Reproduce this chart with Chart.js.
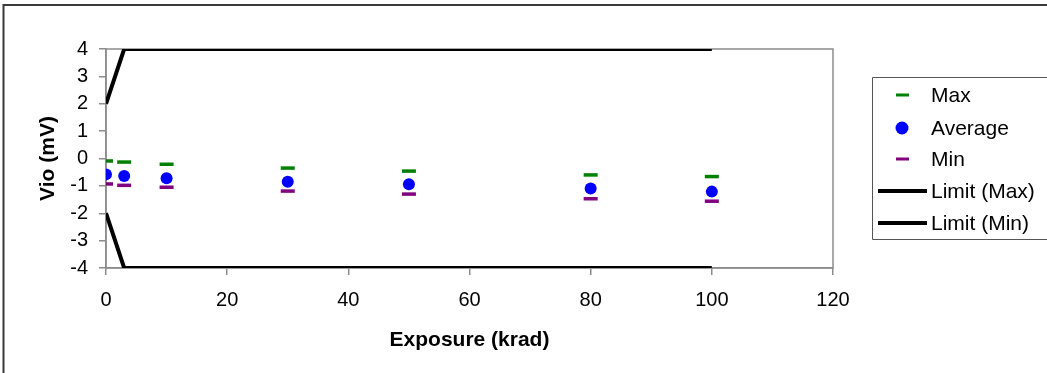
<!DOCTYPE html>
<html>
<head>
<meta charset="utf-8">
<script src="https://cdn.jsdelivr.net/npm/chart.js@4/dist/chart.umd.min.js"></script>
<style>
  html, body { margin: 0; padding: 0; background: #fff; }
  #wrap { width: 1047px; height: 373px; position: relative; }
</style>
</head>
<body>
<div id="wrap"><canvas id="chart" width="1047" height="373"></canvas></div>
<script>
// data
const exposure = [0, 3, 10, 30, 50, 80, 100];
const vioMax = [-0.09, -0.13, -0.21, -0.35, -0.46, -0.60, -0.66];
const vioAvg = [-0.58, -0.64, -0.72, -0.85, -0.94, -1.10, -1.21];
const vioMin = [-0.93, -0.98, -1.05, -1.19, -1.30, -1.47, -1.56];
const limitX = [0, 3, 100];
const limitMax = [2, 4, 4];
const limitMin = [-2, -4, -4];
const xTicks = [0, 20, 40, 60, 80, 100, 120];
const yTicks = [-4, -3, -2, -1, 0, 1, 2, 3, 4];

function pts(xs, ys) {
    return xs.map((x, i) => ({x: x, y: ys[i]}));
}

const FONT = "'Liberation Sans', Arial, sans-serif";
const AXIS_GRAY = '#8c8c8c';

// frame, plot border and the legend box on the right
const framePlugin = {
    id: 'frame',
    beforeDatasetsDraw(chart) {
        const ctx = chart.ctx;
        const a = chart.chartArea;
        ctx.save();
        ctx.strokeStyle = AXIS_GRAY;
        ctx.lineWidth = 1.5;
        ctx.strokeRect(a.left, a.top, a.right - a.left, a.bottom - a.top);
        ctx.restore();
    },
    afterDraw(chart) {
        const ctx = chart.ctx;
        ctx.save();
        // outer chart frame (right & bottom edges are cut off in the picture)
        ctx.strokeStyle = '#3a3a3a';
        ctx.lineWidth = 2;
        ctx.beginPath();
        ctx.moveTo(3.5, 373);
        ctx.lineTo(3.5, 5);
        ctx.lineTo(1047, 5);
        ctx.stroke();

        // legend box
        ctx.strokeStyle = '#555';
        ctx.lineWidth = 1;
        ctx.beginPath();
        ctx.moveTo(1047, 77.5);
        ctx.lineTo(872.5, 77.5);
        ctx.lineTo(872.5, 239.5);
        ctx.lineTo(1047, 239.5);
        ctx.stroke();

        const rows = [95, 128, 159, 191, 223];
        chart.data.datasets.forEach((ds, i) => {
            const y = rows[i];
            if (ds.showLine) {
                ctx.strokeStyle = ds.borderColor;
                ctx.lineWidth = 4;
                ctx.beginPath();
                ctx.moveTo(878, y);
                ctx.lineTo(927, y);
                ctx.stroke();
            } else if (ds.pointStyle === 'circle') {
                ctx.fillStyle = ds.backgroundColor;
                ctx.beginPath();
                ctx.arc(902, y, 6.5, 0, Math.PI * 2);
                ctx.fill();
            } else {
                ctx.strokeStyle = ds.borderColor;
                ctx.lineWidth = 3;
                ctx.beginPath();
                ctx.moveTo(896, y);
                ctx.lineTo(909, y);
                ctx.stroke();
            }
            ctx.fillStyle = '#000';
            ctx.font = '21px ' + FONT;
            ctx.textBaseline = 'middle';
            ctx.textAlign = 'left';
            ctx.fillText(ds.label, 931, y + 1);
        });
        ctx.restore();
    }
};

const ctx = document.getElementById('chart').getContext('2d');
const chart = new Chart(ctx, {
    type: 'scatter',
    data: {
        datasets: [
            {
                label: 'Max',
                data: pts(exposure, vioMax),
                pointStyle: 'line',
                pointRadius: 7,
                pointBorderWidth: 3.5,
                borderColor: '#008000',
                backgroundColor: '#008000',
                showLine: false
            },
            {
                label: 'Average',
                data: pts(exposure, vioAvg),
                pointStyle: 'circle',
                pointRadius: 6,
                pointBorderWidth: 0,
                borderColor: '#0000ff',
                backgroundColor: '#0000ff',
                showLine: false
            },
            {
                label: 'Min',
                data: pts(exposure, vioMin),
                pointStyle: 'line',
                pointRadius: 7,
                pointBorderWidth: 3.5,
                borderColor: '#800080',
                backgroundColor: '#800080',
                showLine: false
            },
            {
                label: 'Limit (Max)',
                data: pts(limitX, limitMax),
                showLine: true,
                pointRadius: 0,
                borderColor: '#000',
                borderWidth: 4,
                fill: false
            },
            {
                label: 'Limit (Min)',
                data: pts(limitX, limitMin),
                showLine: true,
                pointRadius: 0,
                borderColor: '#000',
                borderWidth: 4,
                fill: false
            }
        ]
    },
    options: {
        responsive: false,
        animation: false,
        layout: { padding: { top: 49, right: 214, left: 0, bottom: 0 } },
        plugins: {
            legend: { display: false },
            tooltip: { enabled: false }
        },
        scales: {
            x: {
                type: 'linear',
                min: 0,
                max: 120,
                afterBuildTicks: s => { s.ticks = xTicks.map(v => ({value: v})); },
                afterFit: s => { s.height = 105; },
                grid: { drawOnChartArea: false, drawTicks: true, tickLength: 7, color: AXIS_GRAY, lineWidth: 1.5 },
                border: { display: true, color: AXIS_GRAY, width: 1.5 },
                ticks: { color: '#000', padding: 13, maxRotation: 0, font: { family: FONT, size: 20 } },
                title: {
                    display: true,
                    text: 'Exposure (krad)',
                    color: '#000',
                    padding: { top: 0, bottom: 20 },
                    font: { family: FONT, size: 21, weight: 'bold' }
                }
            },
            y: {
                type: 'linear',
                min: -4,
                max: 4,
                afterBuildTicks: s => { s.ticks = yTicks.map(v => ({value: v})); },
                afterFit: s => { s.width = 106; },
                grid: { drawOnChartArea: false, drawTicks: true, tickLength: 7, color: AXIS_GRAY, lineWidth: 1.5 },
                border: { display: true, color: AXIS_GRAY, width: 1.5 },
                ticks: { color: '#000', padding: 11, font: { family: FONT, size: 20 } },
                title: {
                    display: true,
                    text: 'Vio (mV)',
                    color: '#000',
                    padding: { top: 36, bottom: 0 },
                    font: { family: FONT, size: 21, weight: 'bold' }
                }
            }
        }
    },
    plugins: [framePlugin]
});
</script>
</body>
</html>
